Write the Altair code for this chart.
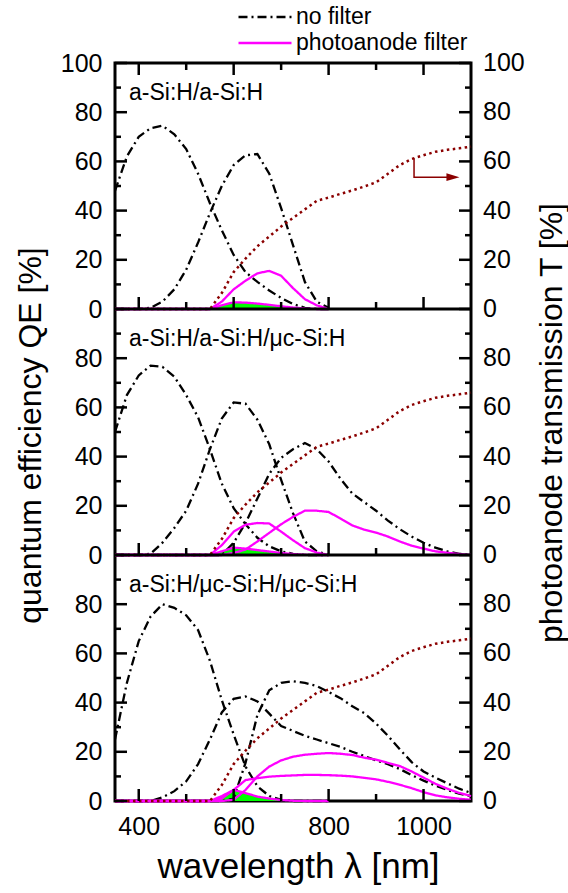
import altair as alt
import pandas as pd

FONT = "Liberation Sans"
W, H = 356, 738          # plot area: three stacked panels of 100 % each
DARK_RED = "#8B0000"
MAGENTA = "#FF00FF"
GREEN = "#00FF00"

# ---- wavelength grids [nm] ----
wl_vis = [350, 375, 400, 425, 450, 475, 500, 525, 550, 575, 600, 625, 650,
          675, 700, 725, 750, 775, 800]
wl_full = [350, 375, 400, 425, 450, 475, 500, 525, 550, 575, 600, 625, 650,
           675, 700, 725, 750, 775, 800, 825, 850, 875, 900, 925, 950, 975,
           1000, 1025, 1050, 1075, 1100]

panel_names = ["a-Si:H/a-Si:H", "a-Si:H/a-Si:H/\u03bcc-Si:H",
               "a-Si:H/\u03bcc-Si:H/\u03bcc-Si:H"]
panel_offsets = [200, 100, 0]
kinds = ["no filter", "photoanode filter"]

# ---- tandem a-Si:H/a-Si:H : QE [%] ----
p1_top_nf = [48, 62, 70, 73.5, 74.5, 71, 65, 55, 43, 32, 22, 15, 11, 7.5, 4.5, 2, 0.5, 0, 0]
p1_bot_nf = [0, 0, 0, 0.5, 3, 8, 16, 27, 39, 50, 58.5, 62.5, 63, 55, 41, 26, 11, 3, 0.5]
p1_top_pf = [0, 0, 0, 0, 0, 0, 0, 0, 0, 1.5, 2.7, 2.6, 2.2, 1.7, 1.1, 0.6, 0.2, 0, 0]
p1_bot_pf = [0, 0, 0, 0, 0, 0, 0, 0, 0, 3, 8, 11.5, 14.5, 15.5, 13.5, 8.5, 4, 1.5, 0]

# ---- triple a-Si:H/a-Si:H/uc-Si:H ----
p2_top_nf = [50, 65, 73, 77, 76.5, 72.5, 65, 56, 43, 29, 19, 12.5, 7, 3.5, 1.5, 0.5, 0, 0, 0]
p2_mid_nf = [0, 0, 0, 0.5, 5, 11, 18, 29, 43, 55.5, 62, 61.5, 55, 45, 30.5, 17, 5.5, 1.5, 0]
p2_bot_nf = [0, 0, 0, 0, 0, 0, 0, 0, 0, 0, 5, 13, 23, 33, 39.5, 43, 45.5, 43, 38, 31,
             25, 21.5, 18, 14, 10.5, 7.5, 5, 3, 1.5, 0.5, 0]
p2_top_pf = [0, 0, 0, 0, 0, 0, 0, 0, 0, 1.5, 3, 2.6, 2, 1.4, 0.8, 0.4, 0.1, 0, 0]
p2_mid_pf = [0, 0, 0, 0, 0, 0, 0, 0, 0, 4, 9.5, 12.3, 13, 12.8, 9.5, 6, 2.8, 1, 0]
p2_bot_pf = [0, 0, 0, 0, 0, 0, 0, 0, 0, 0, 0.8, 2.2, 5.5, 9, 12.5, 15.5, 18, 18, 17.5,
             14.8, 12, 10.3, 9.1, 7.5, 5.5, 3.8, 2.6, 1.5, 0.9, 0.4, 0]

# ---- triple a-Si:H/uc-Si:H/uc-Si:H ----
p3_top_nf = [25, 48, 65, 75, 80, 78.5, 75.5, 69.5, 57, 41, 27, 14, 6, 2, 0.5, 0, 0, 0, 0]
p3_mid_nf = [0, 0, 0, 0, 1.5, 4, 8, 15, 25, 36, 41.5, 42.5, 40.5, 35.5, 30.5, 28.5, 26.5,
             25, 23.5, 22, 20, 18.3, 16.5, 15, 13, 10.5, 8.3, 6.3, 4.5, 3, 2]
p3_bot_nf = [0, 0, 0, 0, 0, 0, 0, 0, 0, 0, 1, 15.5, 35, 45, 48, 48.7, 48, 46.7, 44.3,
             41.8, 38.5, 35.7, 31.5, 26.5, 21, 15.8, 12, 9.5, 7.2, 5, 3.3]
p3_top_pf = [0, 0, 0, 0, 0, 0, 0, 0, 0, 2, 4.5, 3.2, 1.8, 1, 0.4, 0.1, 0, 0, 0]
p3_mid_pf = [0, 0, 0, 0, 0, 0, 0, 0, 0, 1, 4.5, 8.5, 9.3, 9.9, 10.2, 10.4, 10.6, 10.6,
             10.5, 10.3, 10, 9.4, 8.8, 7.8, 6.6, 5.2, 3.6, 2.3, 1.5, 0.9, 0.5]
p3_bot_pf = [0, 0, 0, 0, 0, 0, 0, 0, 0, 0, 0.5, 4.5, 10, 14, 16.5, 18, 18.8, 19.2, 19.5,
             19.2, 18.7, 17.6, 16.8, 15.5, 14.2, 12, 9.5, 7, 5, 3.3, 2]

# ---- photoanode transmission T [%] ----
trans = [0, 0, 0, 0, 0, 0, 0, 0, 0, 6.5, 15, 20.5, 25.5, 29.5, 33.5, 37, 40.5, 44,
         45.3, 46.8, 48.2, 49.8, 51.5, 55, 58.5, 61, 62.5, 63.9, 64.7, 65.3, 66]

# arrow pointing from the T curve to the right-hand axis (top panel)
arrow_wl = [980, 980, 1058]
arrow_t = [61.3, 53.6, 53.6]
arrow_head_wl = [1062]
arrow_head_t = [53.6]

# tick positions
y_major = [0, 20, 40, 60, 80, 100]
y_minor = [10, 30, 50, 70, 90]
x_major = [400, 600, 800, 1000]
x_minor = [500, 700, 900]

# ---- long tables ----
curves = [
    (0, "top", kinds[0], wl_vis, p1_top_nf), (0, "bottom", kinds[0], wl_vis, p1_bot_nf),
    (0, "top", kinds[1], wl_vis, p1_top_pf), (0, "bottom", kinds[1], wl_vis, p1_bot_pf),
    (1, "top", kinds[0], wl_vis, p2_top_nf), (1, "middle", kinds[0], wl_vis, p2_mid_nf),
    (1, "bottom", kinds[0], wl_full, p2_bot_nf),
    (1, "top", kinds[1], wl_vis, p2_top_pf), (1, "middle", kinds[1], wl_vis, p2_mid_pf),
    (1, "bottom", kinds[1], wl_full, p2_bot_pf),
    (2, "top", kinds[0], wl_vis, p3_top_nf), (2, "middle", kinds[0], wl_full, p3_mid_nf),
    (2, "bottom", kinds[0], wl_full, p3_bot_nf),
    (2, "top", kinds[1], wl_vis, p3_top_pf), (2, "middle", kinds[1], wl_full, p3_mid_pf),
    (2, "bottom", kinds[1], wl_full, p3_bot_pf),
]
rows = []
for p, cell, kind, wls, vals in curves:
    for w, v in zip(wls, vals):
        rows.append(dict(series=f"{p}-{cell}-{kind}", panel=p, cell=cell, kind=kind,
                         wl=w, pos=v + panel_offsets[p], base=panel_offsets[p]))
qe_df = pd.DataFrame(rows)

t_df = pd.DataFrame([dict(panel=p, wl=w, pos=t + panel_offsets[p])
                     for p in range(3) for w, t in zip(wl_full, trans)])

arrow_df = pd.DataFrame(dict(i=range(len(arrow_wl)), wl=arrow_wl,
                             pos=[t + panel_offsets[0] for t in arrow_t]))
head_df = pd.DataFrame(dict(wl=arrow_head_wl, pos=[t + panel_offsets[0] for t in arrow_head_t]))

label_df = pd.DataFrame(dict(name=panel_names, pos=[o + 88 for o in panel_offsets]))

ymaj_pos = sorted({v + o for o in panel_offsets for v in y_major})
ymaj_df = pd.DataFrame(dict(pos=ymaj_pos,
                            txt=["100" if p == 300 else str(p % 100) for p in ymaj_pos]))
ymin_df = pd.DataFrame(dict(pos=sorted({v + o for o in panel_offsets for v in y_minor})))
xb_maj = pd.DataFrame([dict(wl=w, pos=o) for o in panel_offsets for w in x_major])
xb_min = pd.DataFrame([dict(wl=w, pos=o) for o in panel_offsets for w in x_minor])
xt_maj = pd.DataFrame(dict(wl=x_major, pos=[300] * len(x_major)))
xt_min = pd.DataFrame(dict(wl=x_minor, pos=[300] * len(x_minor)))
bound_df = pd.DataFrame(dict(pos=[100, 200]))
rtitle_df = pd.DataFrame(dict(t=["photoanode transmission T [%]"]))

# ---- scales / axes (identical definitions on every layer so they merge) ----
xs = alt.Scale(domain=[350, 1100], nice=False, zero=False)
ys = alt.Scale(domain=[0, 300], nice=False, zero=False)
ylabel = "datum.value == 300 ? '100' : '' + (datum.value % 100)"
yvals = list(range(0, 301, 20))

left_axis = alt.Axis(values=yvals, labelExpr=ylabel, title="quantum efficiency QE [%]",
                     orient="left", labelPadding=13, titleX=-85, titleY=372,
                     titleAngle=270, titleBaseline="middle", titleAlign="center")
x_axis = alt.Axis(values=x_major, format="d", title="wavelength \u03bb [nm]", labelPadding=13,
                  titleX=183, titleY=65, titleBaseline="middle", titleAlign="center",
                  titleFontSize=35)

X = alt.X("wl:Q", scale=xs, axis=x_axis)
Y = alt.Y("pos:Q", scale=ys, axis=left_axis)

area = alt.Chart(qe_df).transform_filter(
    (alt.datum.cell == "top") & (alt.datum.kind == kinds[1])
).mark_area(color=GREEN, opacity=1).encode(
    x=X, y=Y, y2="base:Q", detail="panel:N")

lines = alt.Chart(qe_df).mark_line(strokeWidth=2.3).encode(
    x=X, y=Y,
    color=alt.Color("kind:N", scale=alt.Scale(domain=kinds, range=["black", MAGENTA]),
                    legend=alt.Legend(title=None)),
    strokeDash=alt.StrokeDash("kind:N", scale=alt.Scale(domain=kinds, range=[[9, 4, 2, 4], [1, 0]]),
                              legend=alt.Legend(title=None)),
    detail="series:N", order="wl:Q")

tline = alt.Chart(t_df).mark_line(color=DARK_RED, strokeWidth=2.5, strokeDash=[2.5, 3.5]).encode(
    x=X, y=Y, detail="panel:N")

arrow = alt.Chart(arrow_df).mark_line(color=DARK_RED, strokeWidth=1.5).encode(
    x=X, y=Y, order="i:Q")
head = alt.Chart(head_df).mark_point(shape="M-1,-0.6L1,0L-1,0.6Z", size=169, filled=True,
                                     color=DARK_RED, opacity=1).encode(x=X, y=Y)

labels = alt.Chart(label_df).mark_text(align="left", baseline="middle", fontSize=23,
                                       font=FONT, color="black").encode(
    x=alt.value(14), y=Y, text="name:N")

# right-hand T axis: same 0-100 % per panel, written as text beside the frame
rlabels = alt.Chart(ymaj_df).mark_text(align="left", baseline="middle", fontSize=25,
                                       font=FONT, color="black").encode(
    x=alt.value(W + 12), y=Y, text="txt:N")
rtitle = alt.Chart(rtitle_df).mark_text(angle=270, align="center", baseline="middle",
                                        fontSize=32, font=FONT, color="black").encode(
    x=alt.value(W + 81), y=alt.value(360), text="t:N")


def tick(df, path, length, **enc):
    """Inward frame tick drawn as an open symbol path of the given pixel length."""
    return alt.Chart(df).mark_point(shape=path, size=(2 * length) ** 2, filled=False,
                                    color="black", strokeWidth=2.5, opacity=1).encode(**enc)


lmaj = tick(ymaj_df, "M0,0H1", 12, x=alt.value(0), y=Y)
lmin = tick(ymin_df, "M0,0H1", 6, x=alt.value(0), y=Y)
rmaj = tick(ymaj_df, "M0,0H-1", 12, x=alt.value(W), y=Y)
rmin = tick(ymin_df, "M0,0H-1", 6, x=alt.value(W), y=Y)
bmaj = tick(xb_maj, "M0,0V-1", 12, x=X, y=Y)
bmin = tick(xb_min, "M0,0V-1", 7, x=X, y=Y)
tmaj = tick(xt_maj, "M0,0V1", 12, x=X, y=Y)
tmin = tick(xt_min, "M0,0V1", 7, x=X, y=Y)
bounds = alt.Chart(bound_df).mark_rule(color="black", strokeWidth=3).encode(y=Y)

chart = alt.layer(
    area, lines, tline, arrow, head, labels, rlabels, rtitle,
    lmaj, lmin, rmaj, rmin, bmaj, bmin, tmaj, tmin, bounds
).properties(
    width=W, height=H,
    autosize=alt.AutoSizeParams(type="none"),
    padding={"left": 115, "top": 63, "right": 97, "bottom": 92},
    background="white",
).configure_view(
    stroke="black", strokeWidth=3
).configure_axis(
    labelFont=FONT, labelFontSize=25, labelColor="black",
    titleFont=FONT, titleFontSize=32, titleFontWeight="normal", titleColor="black",
    domain=False, ticks=False, tickSize=0, grid=False, labelFlush=False,
).configure_legend(
    orient="none", legendX=122, legendY=-59, symbolType="stroke", symbolSize=2809,
    symbolStrokeWidth=2.5, labelFont=FONT, labelFontSize=23, labelColor="black",
    labelOffset=3, labelLimit=400, padding=0, rowPadding=0, clipHeight=26,
)

chart.save("out.html", embed_options={"renderer": "svg", "actions": False})
